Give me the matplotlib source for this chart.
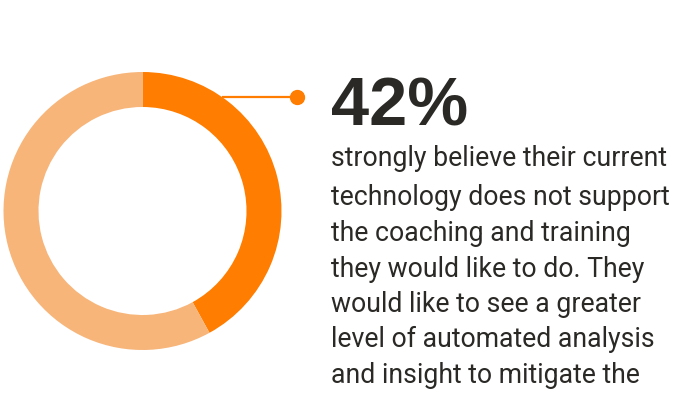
import matplotlib
matplotlib.use("Agg")
import matplotlib.pyplot as plt
from matplotlib import font_manager
from matplotlib.transforms import Affine2D

# share of respondents and the rest of the ring
share = [42, 58]
share_colors = ["#ff7d00", "#f7b57a"]
headline = "42%"
body_lines = [
    "strongly believe their current",
    "technology does not support",
    "the coaching and training",
    "they would like to do. They",
    "would like to see a greater",
    "level of automated analysis",
    "and insight to mitigate the",
]

installed = {f.name for f in font_manager.fontManager.ttflist}


def pick(*names):
    for n in names:
        if n in installed:
            return n
    return "DejaVu Sans"


body_font = pick("Liberation Sans Narrow", "Roboto", "Liberation Sans")
head_font = pick("Liberation Sans", "Roboto", "Inter")

W, H = 674, 399
fig = plt.figure(figsize=(W / 100, H / 100), dpi=100)
fig.patch.set_facecolor("white")

# pixel transform with origin at top-left
px = Affine2D().scale(1.0 / W, -1.0 / H).translate(0, 1) + fig.transFigure

cx, cy, r_out, r_in = 142.5, 211, 139, 104
ax = fig.add_axes([(cx - r_out) / W, (H - cy - r_out) / H, 2 * r_out / W, 2 * r_out / H])
ax.pie(share, colors=share_colors, startangle=90, counterclock=False, radius=1,
       wedgeprops=dict(width=(r_out - r_in) / r_out, linewidth=0))
ax.set_xlim(-1, 1)
ax.set_ylim(-1, 1)
ax.set_aspect("equal")
ax.axis("off")

# leader line from the ring edge to the dot
ly = (cy - 97) / r_out
lx0 = (1 - ly ** 2) ** 0.5
lx1 = (297 - cx) / r_out
ax.plot([lx0, lx1], [ly, ly], color=share_colors[0], lw=1.6, clip_on=False,
        solid_capstyle="butt")
ax.plot([lx1], [ly], "o", color=share_colors[0], ms=10, clip_on=False)

ink = "#2b2926"
renderer = fig.canvas.get_renderer()


def fit(t, target_w):
    # scale the font so the text spans target_w pixels
    w = t.get_window_extent(renderer).width
    t.set_fontsize(t.get_fontsize() * target_w / w)


head = fig.text(331, 125, headline, transform=px, fontsize=40, fontweight="bold",
                family=head_font, color=ink, va="baseline", ha="left")
fit(head, 137)

baselines = [166, 205, 241, 277, 312, 347, 383]
texts = []
for y, line in zip(baselines, body_lines):
    texts.append(fig.text(331, y, line, transform=px, fontsize=20, family=body_font,
                          color=ink, va="baseline", ha="left"))
fit(texts[0], 334)
for t in texts[1:]:
    t.set_fontsize(texts[0].get_fontsize())

fig.savefig("out.png", dpi=100, facecolor="white")
